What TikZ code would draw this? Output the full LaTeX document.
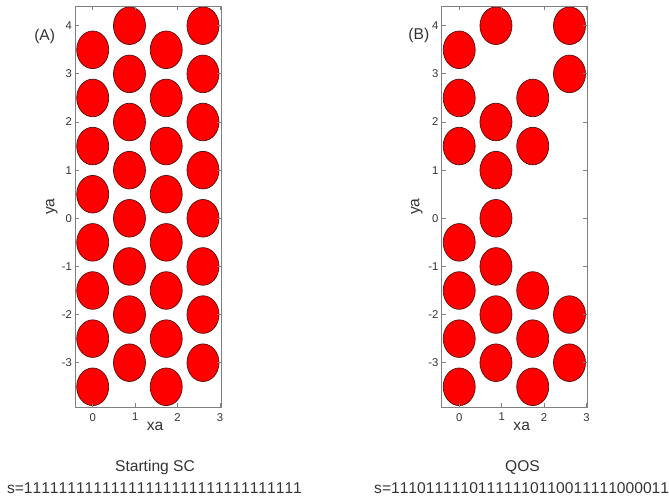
\documentclass[tikz,border=0pt]{standalone}
\usepackage{fontspec}
\setmainfont{Liberation Sans}
\definecolor{axgray}{gray}{0.5}
\definecolor{txtgray}{gray}{0.2}
\definecolor{discred}{rgb}{1,0,0}
\definecolor{discedge}{rgb}{0.35,0.05,0.05}
\def\bitsx#1{\ifx#1\relax\else\makebox[8.69pt]{#1}\expandafter\bitsx\fi}
\tikzset{
 disc/.style={fill=discred, draw=discedge, line width=0.7pt},
 axbox/.style={draw=axgray, line width=0.8pt},
 tickmark/.style={draw=axgray, line width=0.8pt},
 ticklbl/.style={font=\fontsize{11.3}{12}\selectfont, text=txtgray, inner sep=0pt},
 biglbl/.style={font=\fontsize{15.6}{18}\selectfont, text=txtgray, inner sep=0pt},
}
\begin{document}
\begin{tikzpicture}[x=1pt,y=1pt]
\useasboundingbox (0,0) rectangle (669,498);
% ---------- panel A ----------
\begin{scope}[shift={(92.7pt,279.7pt)}, x=42.45pt, y=48.14pt]
 \def\xl{-0.417}\def\xr{3.022}\def\yb{-3.92}\def\yt{4.41}
 \foreach \c/\s in {0/3.5,1/4,2/3.5,3/4}{
  \foreach \i in {0,...,7}{
   \path[disc] ({\c*0.8660},{\s-\i}) ellipse [x radius=16pt, y radius=18.8pt];
  }
 }
 \draw[axbox] (\xl,\yb) rectangle (\xr,\yt);
 \foreach \v in {0,1,2,3}{
  \draw[tickmark] (\v,\yb) -- ++(0,4pt);
  \draw[tickmark] (\v,\yt) -- ++(0,-4pt);
  \node[ticklbl, anchor=north] (axt\v) at ([yshift=-6pt]\v,\yb) {\v};
 }
 \foreach \v in {-3,...,4}{
  \draw[tickmark] (\xl,\v) -- ++(4pt,0);
  \draw[tickmark] (\xr,\v) -- ++(-4pt,0);
  \node[ticklbl, anchor=east] (ayt\v) at ([xshift=-3pt]\xl,\v) {\v};
 }
\end{scope}
\node[biglbl, anchor=base] (axlabA) at (155,67.3) {xa};
\node[biglbl, rotate=90] (aylabA) at (51.7,291.3) {ya};
\node[biglbl] (tagA) at (44.7,461.3) {(A)};
\node[biglbl, anchor=base] (titleA) at (155,26.3) {Starting SC};
\node[biglbl, anchor=base] (strA) at (154.5,4.7) {s=\bitsx 11111111111111111111111111111111\relax};
% ---------- panel B ----------
\begin{scope}[shift={(459.2pt,279.7pt)}, x=42.45pt, y=48.14pt]
 \def\xl{-0.417}\def\xr{3.022}\def\yb{-3.92}\def\yt{4.41}
 \foreach \c/\y in {0/3.5,0/2.5,0/1.5,0/-0.5,0/-1.5,0/-2.5,0/-3.5,
                    1/4,1/2,1/1,1/0,1/-1,1/-2,1/-3,
                    2/2.5,2/1.5,2/-1.5,2/-2.5,2/-3.5,
                    3/4,3/3,3/-2,3/-3}{
   \path[disc] ({\c*0.8660},\y) ellipse [x radius=16pt, y radius=18.8pt];
 }
 \draw[axbox] (\xl,\yb) rectangle (\xr,\yt);
 \foreach \v in {0,1,2,3}{
  \draw[tickmark] (\v,\yb) -- ++(0,4pt);
  \draw[tickmark] (\v,\yt) -- ++(0,-4pt);
  \node[ticklbl, anchor=north] (bxt\v) at ([yshift=-6pt]\v,\yb) {\v};
 }
 \foreach \v in {-3,...,4}{
  \draw[tickmark] (\xl,\v) -- ++(4pt,0);
  \draw[tickmark] (\xr,\v) -- ++(-4pt,0);
  \node[ticklbl, anchor=east] (byt\v) at ([xshift=-3pt]\xl,\v) {\v};
 }
\end{scope}
\node[biglbl, anchor=base] (axlabB) at (521.7,67.3) {xa};
\node[biglbl, rotate=90] (aylabB) at (416.7,291.3) {ya};
\node[biglbl] (tagB) at (418.8,462.2) {(B)};
\node[biglbl, anchor=base] (titleB) at (522.5,26.3) {QOS};
\node[biglbl, anchor=base] (strB) at (521.7,4.7) {s=\bitsx 11101111101111110110011111000011\relax};
\end{tikzpicture}
\end{document}
